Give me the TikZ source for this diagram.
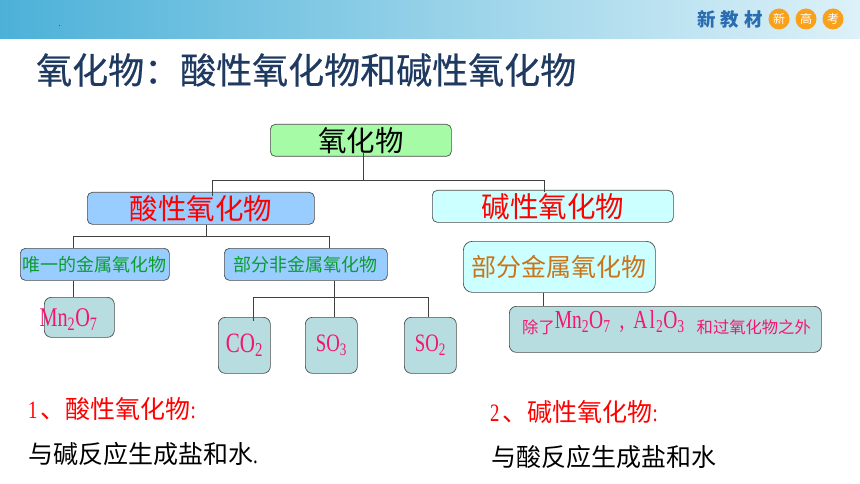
\documentclass[tikz,border=0pt]{standalone}
\usepackage{fontspec}
\usepackage{xcolor}
\setmainfont{Noto Sans CJK SC}
\newfontfamily\latinfont[FakeStretch=0.75]{Liberation Serif}
\newfontfamily\titlefont[FakeBold=0.5]{Noto Sans CJK SC}
\newcommand{\fs}[1]{\fontsize{#1}{#1}\selectfont}
\newcommand{\half}[1]{\makebox[12.5pt][l]{\latinfont #1}}
\definecolor{rootgreen}{HTML}{A6FBA6}
\definecolor{acidblue}{HTML}{99CCFF}
\definecolor{basecyan}{HTML}{CCFFFF}
\definecolor{tealbox}{HTML}{B8DDE0}
\definecolor{pinktext}{HTML}{F5156E}
\definecolor{greentext}{HTML}{0A9E2E}
\definecolor{browntext}{HTML}{C8741A}
\definecolor{titleblue}{HTML}{1F3A60}
\definecolor{bandleft}{HTML}{4CB1D8}
\definecolor{bandmid}{HTML}{8FD0E8}
\definecolor{bandright}{HTML}{DDF1F8}
\definecolor{badge}{HTML}{F9A11B}
\definecolor{logoblue}{HTML}{2A6DB0}
\tikzset{
    box/.style={draw=black!70,line width=0.7pt,rounded corners=5pt,inner sep=0pt,anchor=north west},
    link/.style={draw=black!75,line width=0.8pt},
    badgedot/.style={circle,fill=badge,minimum size=21pt,inner sep=0pt,text=white,font=\fs{12}}
}
\begin{document}
\begin{tikzpicture}[x=1pt,y=-1pt]
    \useasboundingbox (0,0) rectangle (860,484);
    \fill[left color=bandleft,middle color=bandmid,right color=bandright] (0,0) rectangle (860,39);
    \fill[black!70] (59,25) rectangle (59.8,25.8);
    \node[text=logoblue,font=\fs{18.5}\bfseries] (logo) at (730,19) {新\hspace{5pt}教\hspace{5pt}材};
    \node[badgedot] (xin) at (779,19) {新};
    \node[badgedot] (gao) at (806,19) {高};
    \node[badgedot] (kao) at (833,19) {考};
    \node[text=titleblue,font=\titlefont\fs{36},anchor=west,inner sep=0pt] (title) at (36,70) {氧化物：酸性氧化物和碱性氧化物};

    \node[box,fill=rootgreen,minimum width=181pt,minimum height=32pt,font=\fs{28.5}] (root) at (270,124) {氧化物};
    \node[box,fill=acidblue,minimum width=227pt,minimum height=32pt,font=\fs{28.5},text=red] (acid) at (87,192) {酸性氧化物};
    \node[box,fill=basecyan,minimum width=241pt,minimum height=32pt,font=\fs{28.5},text=red] (base) at (432,190) {碱性氧化物};
    \node[box,fill=acidblue,minimum width=149pt,minimum height=32pt,font=\fs{18},text=greentext] (metal) at (20,248) {唯一的金属氧化物};
    \node[box,fill=acidblue,minimum width=163pt,minimum height=32pt,font=\fs{18},text=greentext] (nonmetal) at (224,248) {部分非金属氧化物};
    \node[box,fill=basecyan,rounded corners=9pt,minimum width=192pt,minimum height=51pt,font=\fs{25},text=browntext] (part) at (463,241) {部分金属氧化物};
    \node[box,fill=tealbox,minimum width=70pt,minimum height=40pt,rounded corners=7pt] (mn) at (44,297) {};
    \node[text=pinktext,font=\latinfont\fs{27},inner sep=0pt] (mnlabel) at (68.5,320) {Mn\textsubscript{2}O\textsubscript{7}};
    \foreach \name/\x/\w/\txt/\size in {co/218/52/CO\textsubscript{2}/28,so/305/52/SO\textsubscript{3}/25,sob/404/52/SO\textsubscript{2}/25}
        \node[box,fill=tealbox,minimum width=\w pt,minimum height=56pt,rounded corners=7pt,text=pinktext,font=\latinfont\fs{\size}] (\name) at (\x,317) {\txt};
    \node[box,fill=tealbox,rounded corners=7pt,minimum width=312pt,minimum height=46pt] (except) at (509,306) {};
    \node[text=pinktext,font=\fs{16.3},inner sep=0pt,anchor=west] (exceptlabel) at (522,323) {除了\raisebox{5pt}{\latinfont\fs{26}Mn\textsubscript{2}O\textsubscript{7}\hspace{9pt},\hspace{9pt}A\hspace{2pt}l\hspace{1pt}\textsubscript{2}O\textsubscript{3}}\hspace{12pt}和过氧化物之外};

    \coordinate (rootbus) at (363,180);
    \coordinate (acidbus) at (206,236.5);
    \coordinate (nonbus) at (334,297);
    \draw[link] ([yshift=4pt]rootbus |- root.south) -- (rootbus);
    \draw[link] ([yshift=-4pt]212,192 |- acid.north) |- (rootbus);
    \draw[link] ([yshift=-2pt]544,192 |- base.north) |- (rootbus);
    \draw[link] (acidbus |- acid.south) -- (acidbus);
    \draw[link] (73,0 |- metal.north) |- (acidbus);
    \draw[link] (329,0 |- nonmetal.north) |- (acidbus);
    \draw[link] (73,0 |- metal.south) -- (73,0 |- mn.north);
    \draw[link] (nonbus |- nonmetal.south) -- (nonbus);
    \draw[link] ([yshift=-4pt]253,0 |- co.north) |- (nonbus);
    \draw[link] (nonbus) -- (nonbus |- so.north);
    \draw[link] (428,0 |- sob.north) |- (nonbus);
    \draw[link] (543.5,0 |- part.south) -- (543.5,0 |- except.north);

    \node[text=red,font=\fs{25},anchor=west,inner sep=0pt] (acidrule) at (28,409) {\half{1}、酸性氧化物\half{:}};
    \node[font=\fs{25},anchor=west,inner sep=0pt] (acidtext) at (28,454) {与碱反应生成盐和水\half{.}};
    \node[text=red,font=\fs{25},anchor=west,inner sep=0pt] (baserule) at (490,412) {\half{2}、碱性氧化物\half{:}};
    \node[font=\fs{25},anchor=west,inner sep=0pt] (basetext) at (491,457) {与酸反应生成盐和水};
\end{tikzpicture}
\end{document}
